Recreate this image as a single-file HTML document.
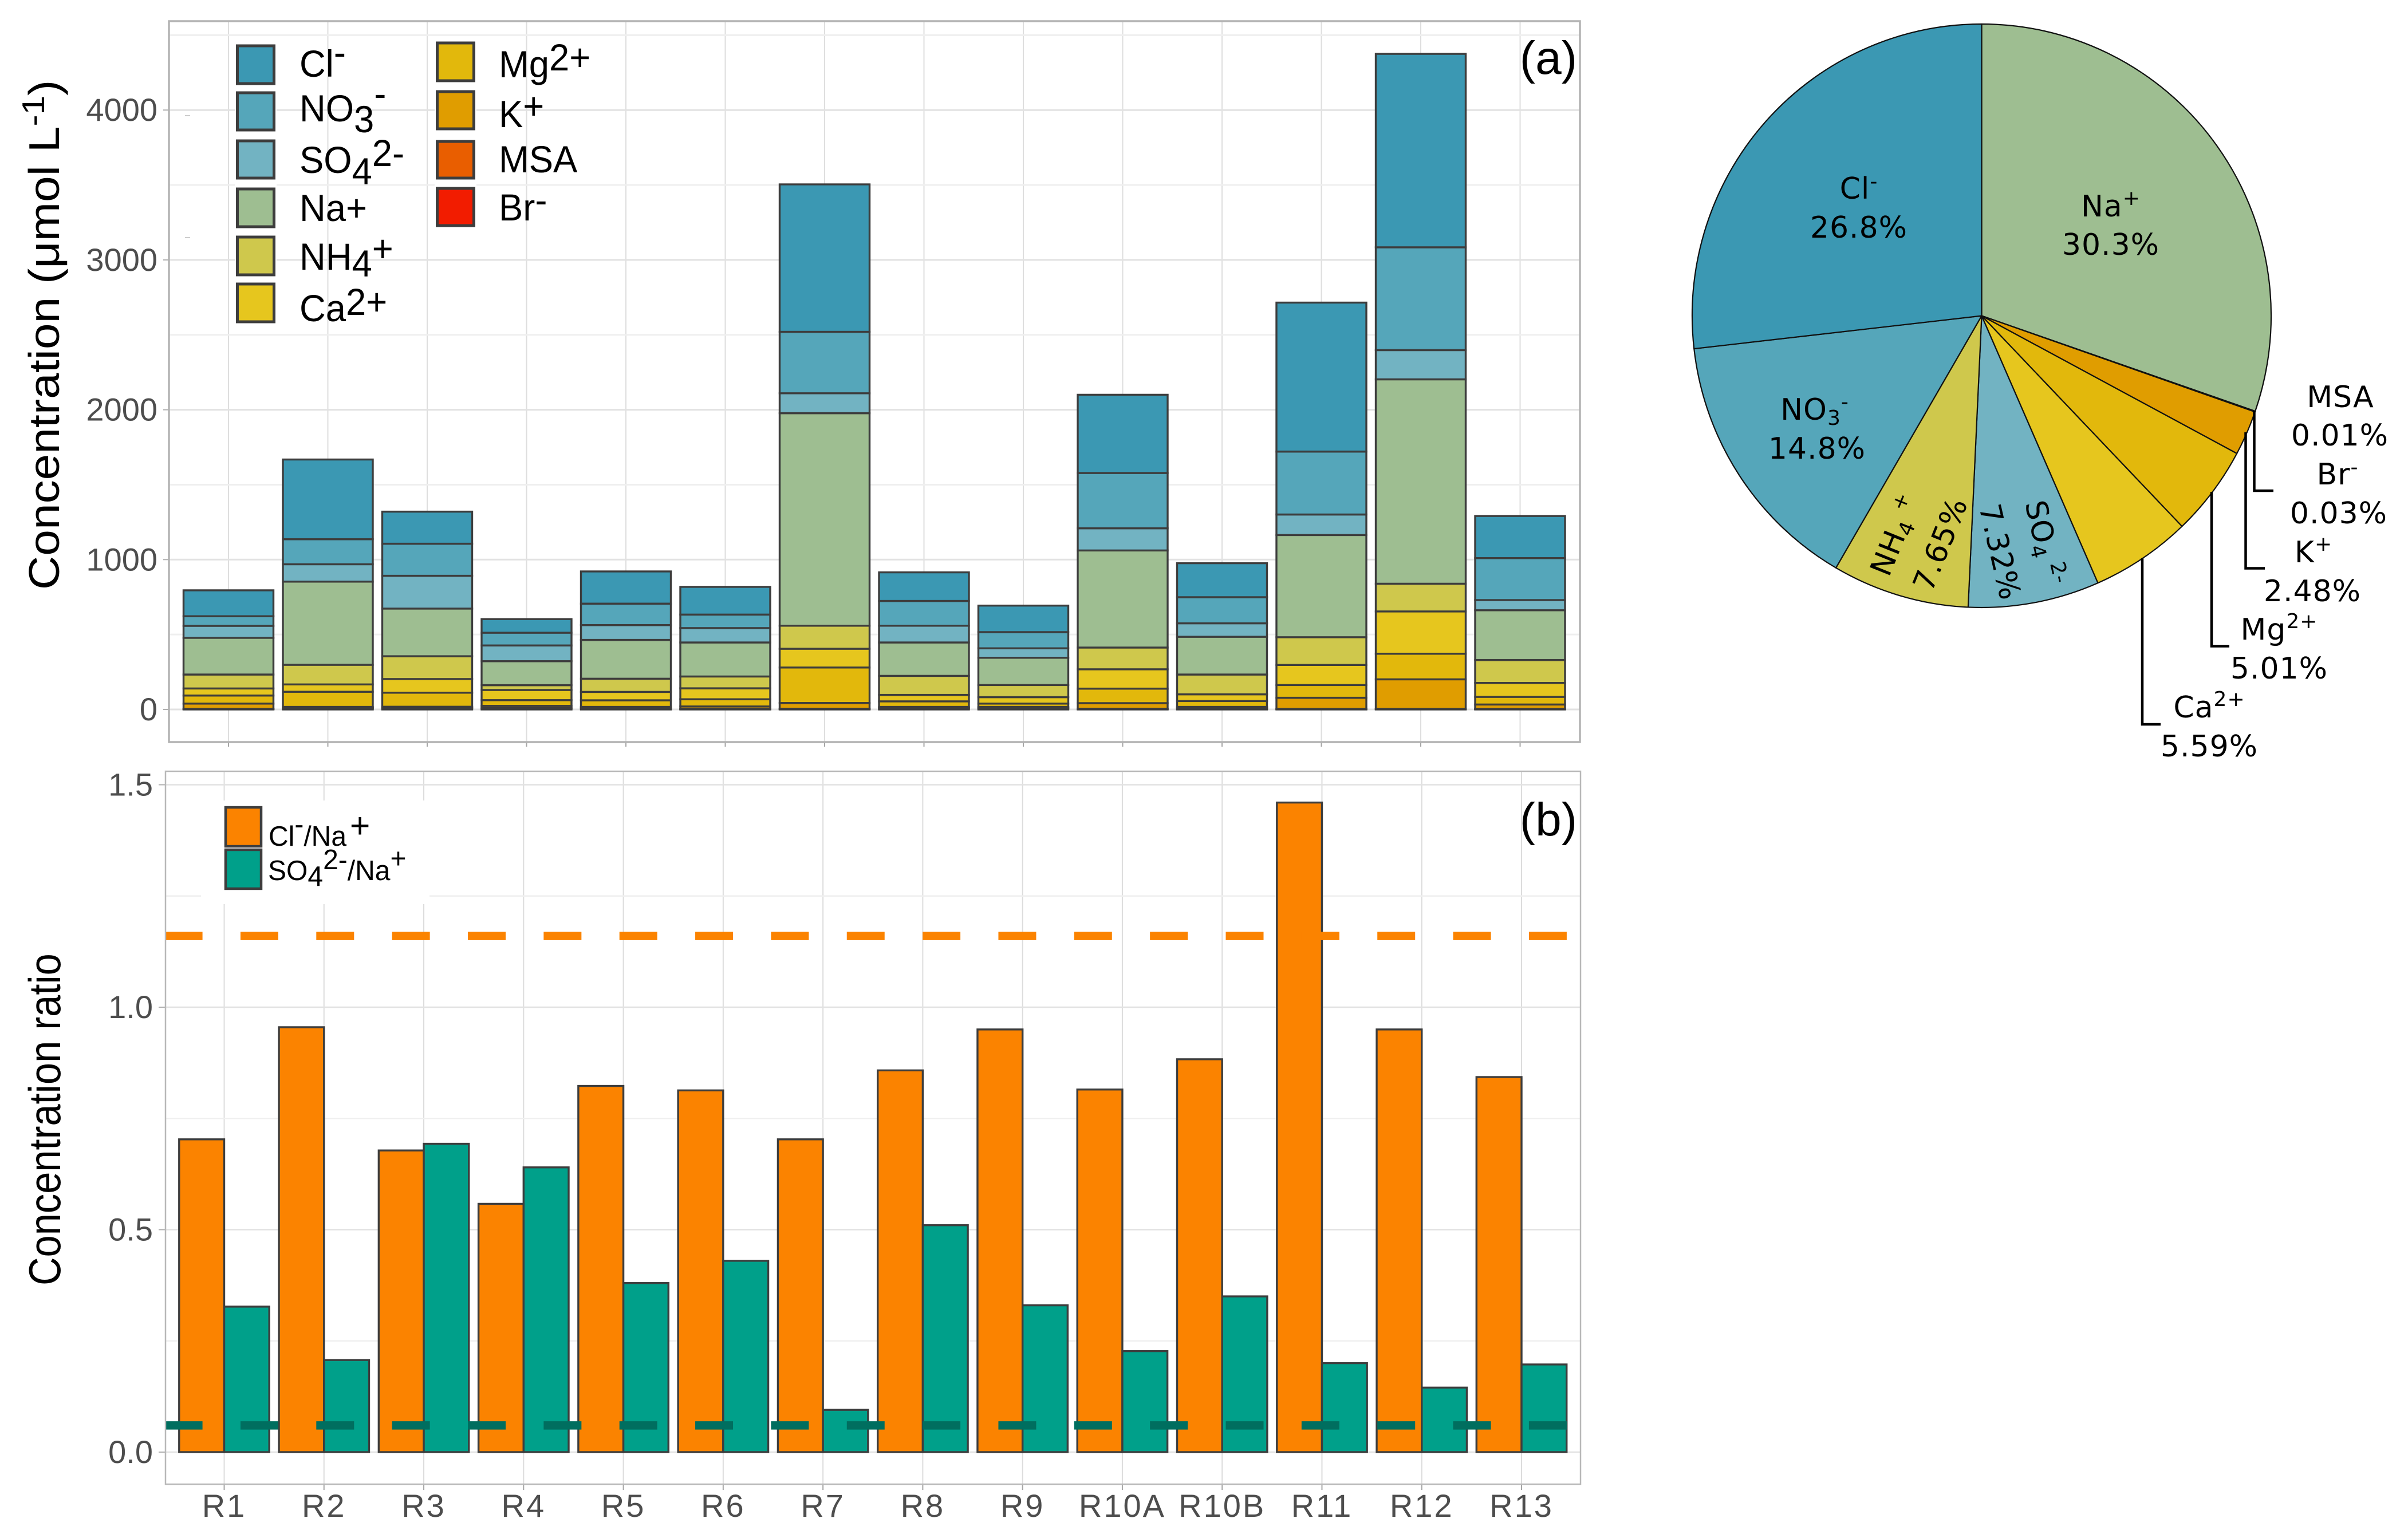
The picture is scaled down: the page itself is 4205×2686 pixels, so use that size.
<!DOCTYPE html>
<html lang="en">
<head>
<meta charset="utf-8">
<title>Ion concentrations and ratios</title>
<style>
html,body{margin:0;padding:0;background:#fff;}
svg{display:block;}
.sans{font-family:"Liberation Sans",sans-serif;}
.pie-text{font-family:"DejaVu Sans",sans-serif;font-size:52px;letter-spacing:1px;fill:#000;text-anchor:middle;}
.pie-text tspan.s{font-size:36px;}
.leg{font-family:"Liberation Sans",sans-serif;font-size:66px;fill:#000;}
.legb{font-family:"Liberation Sans",sans-serif;font-size:49px;fill:#000;}
</style>
</head>
<body>
<svg id="figure" xmlns="http://www.w3.org/2000/svg" width="4205" height="2686" viewBox="0 0 4205 2686">
  <rect x="0" y="0" width="4205" height="2686" fill="#ffffff"/>

  <!-- Panel a -->
  <g id="grid-a"></g>
  <g id="ticks-a"></g>
  <g id="bars-a"></g>
  <rect x="295" y="37" width="2464" height="1259" fill="none" stroke="#b3b3b3" stroke-width="3.5"/>
  <line x1="323" x2="332" y1="202" y2="202" stroke="#cccccc" stroke-width="2"/>
  <line x1="323" x2="332" y1="415" y2="415" stroke="#cccccc" stroke-width="2"/>
  <text class="sans" font-size="75" fill="#000" transform="translate(103,1030) rotate(-90) scale(1.095,1)">Concentration (μmol L<tspan dy="-26" font-size="55">-1</tspan><tspan dy="26">)</tspan></text>
  <text class="sans" font-size="82" fill="#000" text-anchor="end" x="2754" y="129">(a)</text>

  <g id="legend-a">
    <rect x="410" y="76" width="73" height="490" fill="#fff"/>
    <rect x="759" y="71" width="73" height="327" fill="#fff"/>
    <g><rect x="414.5" y="80" width="64" height="66" fill="#3B98B3" stroke="#3d3d3d" stroke-width="5"/><text class="leg" transform="translate(523,134) scale(.96,1)">Cl<tspan dy="-20">-</tspan></text></g>
    <g><rect x="414.5" y="162" width="64" height="65" fill="#55A6BA" stroke="#3d3d3d" stroke-width="5"/><text class="leg" transform="translate(523,212) scale(.96,1)">NO<tspan dy="19">3</tspan><tspan dy="-45">-</tspan></text></g>
    <g><rect x="414.5" y="246" width="64" height="65" fill="#72B3C2" stroke="#3d3d3d" stroke-width="5"/><text class="leg" transform="translate(523,302) scale(.96,1)">SO<tspan dy="20">4</tspan><tspan dy="-32">2-</tspan></text></g>
    <g><rect x="414.5" y="330" width="64" height="66" fill="#9EBE91" stroke="#3d3d3d" stroke-width="5"/><text class="leg" transform="translate(523,386) scale(.96,1)">Na+</text></g>
    <g><rect x="414.5" y="414" width="64" height="66" fill="#CFC84C" stroke="#3d3d3d" stroke-width="5"/><text class="leg" transform="translate(523,471) scale(.96,1)">NH<tspan dy="12">4</tspan><tspan dy="-26">+</tspan></text></g>
    <g><rect x="414.5" y="496" width="64" height="66" fill="#E6C61E" stroke="#3d3d3d" stroke-width="5"/><text class="leg" transform="translate(523,561) scale(.96,1)">Ca<tspan dy="-11">2+</tspan></text></g>
    <g><rect x="763.5" y="75" width="64" height="66" fill="#E2B80C" stroke="#3d3d3d" stroke-width="5"/><text class="leg" transform="translate(871,135) scale(.96,1)">Mg<tspan dy="-12">2+</tspan></text></g>
    <g><rect x="763.5" y="160" width="64" height="65" fill="#E09D00" stroke="#3d3d3d" stroke-width="5"/><text class="leg" transform="translate(871,222) scale(.96,1)">K<tspan dy="-14">+</tspan></text></g>
    <g><rect x="763.5" y="247" width="64" height="64" fill="#E95E00" stroke="#3d3d3d" stroke-width="5"/><text class="leg" transform="translate(871,301) scale(.96,1)">MSA</text></g>
    <g><rect x="763.5" y="329" width="64" height="65" fill="#F21C00" stroke="#3d3d3d" stroke-width="5"/><text class="leg" transform="translate(871,385) scale(.96,1)">Br<tspan dy="-13">-</tspan></text></g>
  </g>

  <!-- Panel b -->
  <g id="grid-b"></g>
  <g id="ticks-b"></g>
  <rect x="351" y="1398" width="399" height="181" fill="#fff"/>
  <g id="bars-b"></g>
  <g id="refs-b"></g>
  <rect x="289" y="1347" width="2471" height="1245" fill="none" stroke="#b8b8b8" stroke-width="2.5"/>
  <text class="sans" font-size="78" fill="#000" transform="translate(105,2245) rotate(-90) scale(.88,1)">Concentration ratio</text>
  <text class="sans" font-size="82" fill="#000" text-anchor="end" x="2754" y="1459">(b)</text>
  <g id="legend-b">
    <g><rect x="394" y="1410" width="62" height="68" fill="#FB8300" stroke="#3d3d3d" stroke-width="4.5"/><text class="legb" transform="translate(469,1477) scale(.98,1)">Cl<tspan dy="-21">-</tspan><tspan dy="21">/Na</tspan><tspan dx="6" dy="-14" font-size="62">+</tspan></text></g>
    <g><rect x="394" y="1484" width="62" height="68" fill="#00A08A" stroke="#3d3d3d" stroke-width="4.5"/><text class="legb" transform="translate(468,1537) scale(.98,1)">SO<tspan dy="10">4</tspan><tspan dy="-29">2-</tspan><tspan dy="19">/Na</tspan><tspan dy="-21">+</tspan></text></g>
  </g>

  <!-- Pie -->
  <g id="pie"></g>
  <g fill="none" stroke="#000" stroke-width="4.5">
    <polyline points="3936.5,718 3936.5,857 3970,857"/>
    <polyline points="3921.5,755 3921.5,992.5 3955,992.5"/>
    <polyline points="3862,859 3862,1128.5 3893,1128.5"/>
    <polyline points="3741,975 3741,1265 3773,1265"/>
  </g>
  <g>
    <text class="pie-text" x="3246" y="347">Cl<tspan class="s" dy="-18">-</tspan></text>
    <text class="pie-text" x="3246" y="415">26.8%</text>
    <text class="pie-text" x="3686" y="378">Na<tspan class="s" dy="-20">+</tspan></text>
    <text class="pie-text" x="3686" y="445">30.3%</text>
    <text class="pie-text" x="3169" y="733">NO<tspan class="s" dy="9">3</tspan><tspan class="s" dy="-28">-</tspan></text>
    <text class="pie-text" x="3173" y="801">14.8%</text>
    <text class="pie-text" transform="translate(3326,941) rotate(-68)">NH<tspan class="s" dy="9">4</tspan><tspan class="s" dy="-28"> +</tspan></text>
    <text class="pie-text" transform="translate(3405,957) rotate(-68)">7.65%</text>
    <text class="pie-text" transform="translate(3553,952) rotate(77)">SO<tspan class="s" dy="9">4</tspan><tspan class="s" dy="-28"> 2-</tspan></text>
    <text class="pie-text" transform="translate(3475,968) rotate(77)">7.32%</text>
    <text class="pie-text" x="4087" y="711">MSA</text>
    <text class="pie-text" x="4086" y="778">0.01%</text>
    <text class="pie-text" x="4082" y="846">Br<tspan class="s" dy="-18">-</tspan></text>
    <text class="pie-text" x="4084" y="914">0.03%</text>
    <text class="pie-text" x="4040" y="982">K<tspan class="s" dy="-20">+</tspan></text>
    <text class="pie-text" x="4038" y="1050">2.48%</text>
    <text class="pie-text" x="3980" y="1117">Mg<tspan class="s" dy="-20">2+</tspan></text>
    <text class="pie-text" x="3980" y="1185">5.01%</text>
    <text class="pie-text" x="3858" y="1253">Ca<tspan class="s" dy="-20">2+</tspan></text>
    <text class="pie-text" x="3858" y="1321">5.59%</text>
  </g>
</svg>

<script>
// Categories shared by both bar panels
const sampleNames = ['R1','R2','R3','R4','R5','R6','R7','R8','R9','R10A','R10B','R11','R12','R13'];

// Panel (a): concentration per ion, µmol/L, one value per sample
const brValues  = [2,5,5,5,5,2,2,5,5,2,5,2,2,2];
const msaValues = [2,5,5,5,5,3,3,5,5,3,4,2,2,2];
const kValues   = [35,7,8,14,7,15,38,7,7,37,8,74,197,29];
const mgValues  = [54,101,94,38,44,48,237,37,22,97,39,85,171,51];
const caValues  = [47,49,91,68,56,73,125,43,43,129,45,134,282,93];
const nh4Values = [93,131,152,32,88,79,154,127,81,145,132,185,185,153];
const naValues  = [245,555,318,160,259,227,1418,223,182,648,252,682,1364,332];
const so4Values = [80,116,219,105,99,96,133,112,63,148,90,137,195,68];
const no3Values = [64,167,214,85,143,90,410,165,108,369,174,420,686,280];
const clValues  = [173,532,214,91,215,185,984,191,177,522,227,994,1291,281];
const concentrationTicks = [0,1000,2000,3000,4000];
const concentrationMinorTicks = [500,1500,2500,3500,4500];

// Panel (b): ratios
const clNaRatio  = [0.703,0.955,0.678,0.558,0.823,0.813,0.703,0.858,0.95,0.815,0.883,1.46,0.95,0.843];
const so4NaRatio = [0.327,0.207,0.693,0.64,0.38,0.43,0.095,0.51,0.33,0.227,0.35,0.20,0.145,0.197];
const seawaterClNa = 1.16;
const seawaterSo4Na = 0.06;
const ratioTicks = ['0.0','0.5','1.0','1.5'];
const ratioMinorTicks = [0.25,0.75,1.25];

// Pie: share in percent, clockwise from 12 o'clock
const pieIons = ['na','msa','br','k','mg','ca','so4','nh4','no3','cl'];
const pieShares = [30.3,0.01,0.03,2.48,5.01,5.59,7.32,7.65,14.8,26.8];

const NS = 'http://www.w3.org/2000/svg';
const ionColor = {cl:'#3B98B3',no3:'#55A6BA',so4:'#72B3C2',na:'#9EBE91',nh4:'#CFC84C',ca:'#E6C61E',mg:'#E2B80C',k:'#E09D00',msa:'#E95E00',br:'#F21C00'};

function xA(i){ return 399 + 173.5 * i; }
function yA(v){ return 1239 - v * 0.2617; }
function xB(i){ return 391.5 + 174.27 * i; }
function yB(v){ return 2536 - v * 777; }

function make(tag, props, parentId){
  const el = document.createElementNS(NS, tag);
  for (const k in props) el.setAttribute(k, props[k]);
  document.getElementById(parentId).appendChild(el);
  return el;
}

// ---- Panel a grid and ticks ----
sampleNames.forEach(function(name, i){
  const g = make('line', {x1:xA(i),x2:xA(i),y1:37,y2:1296,stroke:'#dedede','stroke-width':2}, 'grid-a');
  
  
  const t = make('line', {x1:xA(i),x2:xA(i),y1:1296,y2:1304,stroke:'#a6a6a6','stroke-width':2}, 'ticks-a');
  
  
});
concentrationMinorTicks.forEach(function(v){
  const g = make('line', {x1:295,x2:2759,y1:yA(v),y2:yA(v),stroke:'#efefef','stroke-width':3}, 'grid-a');
  
  
});
concentrationTicks.forEach(function(v){
  const g = make('line', {x1:295,x2:2759,y1:yA(v),y2:yA(v),stroke:'#e2e2e2','stroke-width':3}, 'grid-a');
  
  
  const t = make('line', {x1:285,x2:295,y1:yA(v),y2:yA(v),stroke:'#b0b0b0','stroke-width':2}, 'ticks-a');
  
  
  const l = make('text', {x:275,y:yA(v)+19,'text-anchor':'end','font-size':56,fill:'#4d4d4d','font-family':'"Liberation Sans",sans-serif'}, 'ticks-a');
  
  
  l.textContent = String(v);
});

// ---- Panel a stacked bars ----
const stackOrder = [['br',brValues],['msa',msaValues],['k',kValues],['mg',mgValues],['ca',caValues],['nh4',nh4Values],['na',naValues],['so4',so4Values],['no3',no3Values],['cl',clValues]];
sampleNames.forEach(function(name, i){
  let base = 0;
  const halfWidth = 78.5;
  stackOrder.forEach(function(series){
    const v = series[1][i];
    const top = base + v;
    const r = make('rect', {x:xA(i)-halfWidth,y:yA(top),width:halfWidth*2,height:yA(base)-yA(top),fill:ionColor[series[0]],stroke:'#3d3d3d','stroke-width':3.4}, 'bars-a');
    
    
    base = top;
  });
});

// ---- Panel b grid and ticks ----
sampleNames.forEach(function(name, i){
  const g = make('line', {x1:xB(i),x2:xB(i),y1:1347,y2:2592,stroke:'#dcdcdc','stroke-width':2}, 'grid-b');
  
  
  const t = make('line', {x1:xB(i),x2:xB(i),y1:2592,y2:2602,stroke:'#a6a6a6','stroke-width':2}, 'ticks-b');
  
  
  const l = make('text', {x:xB(i),y:2649,'text-anchor':'middle','font-size':56,'letter-spacing':3,fill:'#4d4d4d','font-family':'"Liberation Sans",sans-serif'}, 'ticks-b');
  
  
  l.textContent = name;
});
ratioMinorTicks.forEach(function(v){
  const g = make('line', {x1:289,x2:2760,y1:yB(v),y2:yB(v),stroke:'#efefef','stroke-width':2.5}, 'grid-b');
  
  
});
ratioTicks.forEach(function(label){
  const v = parseFloat(label);
  const g = make('line', {x1:289,x2:2760,y1:yB(v),y2:yB(v),stroke:'#e2e2e2','stroke-width':2.5}, 'grid-b');
  
  
  const t = make('line', {x1:277,x2:289,y1:yB(v),y2:yB(v),stroke:'#b0b0b0','stroke-width':2}, 'ticks-b');
  
  
  const l = make('text', {x:267,y:yB(v)+19,'text-anchor':'end','font-size':56,fill:'#4d4d4d','font-family':'"Liberation Sans",sans-serif'}, 'ticks-b');
  
  
  l.textContent = label;
});

// ---- Panel b dodged bars ----
sampleNames.forEach(function(name, i){
  const w = 78.7;
  const a = make('rect', {x:xB(i)-w,y:yB(clNaRatio[i]),width:w,height:yB(0)-yB(clNaRatio[i]),fill:'#FB8300',stroke:'#3d3d3d','stroke-width':3.4}, 'bars-b');
  
  
  const b = make('rect', {x:xB(i),y:yB(so4NaRatio[i]),width:w,height:yB(0)-yB(so4NaRatio[i]),fill:'#00A08A',stroke:'#3d3d3d','stroke-width':3.4}, 'bars-b');
  
  
});

// ---- Reference dashed lines ----
const refOrange = make('line', {x1:289,x2:2736,y1:yB(seawaterClNa),y2:yB(seawaterClNa),stroke:'#FB8300','stroke-width':14.5,'stroke-dasharray':'66 66.35','stroke-dashoffset':'1.4'}, 'refs-b');


const refTeal = make('line', {x1:289,x2:2736,y1:yB(seawaterSo4Na),y2:yB(seawaterSo4Na),stroke:'#006E5F','stroke-width':14.5,'stroke-dasharray':'66 66.35','stroke-dashoffset':'1.4'}, 'refs-b');



// ---- Pie ----
const pieCx = 3460.5, pieCy = 551.5, pieRx = 505.5, pieRy = 509.5;
const shareTotal = pieShares.reduce(function(s, v){ return s + v; }, 0);
let runningShare = 0;
pieIons.forEach(function(ion, i){
  const a0 = runningShare / shareTotal * 2 * Math.PI;
  runningShare += pieShares[i];
  const a1 = runningShare / shareTotal * 2 * Math.PI;
  const x0 = pieCx + pieRx * Math.sin(a0), y0 = pieCy - pieRy * Math.cos(a0);
  const x1 = pieCx + pieRx * Math.sin(a1), y1 = pieCy - pieRy * Math.cos(a1);
  const large = (a1 - a0) > Math.PI ? 1 : 0;
  const d = 'M' + pieCx + ' ' + pieCy + 'L' + x0 + ' ' + y0 + 'A' + pieRx + ' ' + pieRy + ' 0 ' + large + ' 1 ' + x1 + ' ' + y1 + 'Z';
  const s = make('path', {d:d,fill:ionColor[ion],stroke:'#111','stroke-width':2.2,'stroke-linejoin':'round'}, 'pie');
  
  
});
</script>
</body>
</html>
